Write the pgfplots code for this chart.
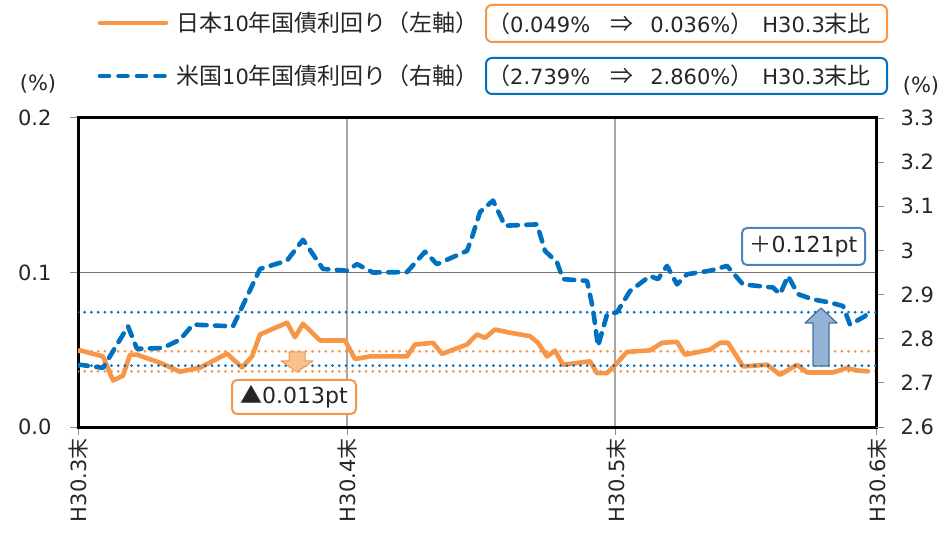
\documentclass[border=0pt]{standalone}
\usepackage{fontspec}
\setmainfont{DejaVu Sans}
\newfontfamily\jp{Noto Sans CJK JP}
\usepackage{pgfplots}
\pgfplotsset{compat=1.18}
\newcommand\J[1]{{\jp #1}}
\newcommand\JL[1]{{\jp\fontsize{23bp}{27bp}\selectfont #1}}
\newcommand\fs{\fontsize{21bp}{25bp}\selectfont}
\definecolor{jorange}{HTML}{F79646}
\definecolor{orgfill}{HTML}{FAC08F}
\definecolor{usblue}{HTML}{0070C0}
\definecolor{arrblue}{HTML}{95B3D7}
\definecolor{arrbluedark}{HTML}{41719C}
\definecolor{boxblue}{HTML}{4F81BD}
\definecolor{txt}{HTML}{262626}

\pgfplotstableread{
x y
0 0.049
2 0.0496
25 0.0457
35 0.0301
45 0.0332
52 0.0468
59 0.0468
82 0.0416
102 0.0358
122 0.0384
149 0.0475
164 0.0386
174 0.0457
182 0.0599
209 0.0675
217 0.0581
225 0.0668
242 0.0560
267 0.0560
277 0.0440
292 0.0457
329 0.0457
337 0.0534
355 0.0545
364 0.0473
389 0.0534
399 0.0599
407 0.0577
417 0.0631
432 0.0610
452 0.0588
460 0.0545
469 0.0457
477 0.0494
485 0.0403
512 0.0425
519 0.0349
529 0.0349
539 0.0414
549 0.0486
572 0.0496
584 0.0545
599 0.0551
607 0.0468
632 0.0501
642 0.0545
650 0.0545
665 0.0392
689 0.0403
702 0.0338
719 0.0403
729 0.0353
755 0.0353
769 0.0382
779 0.0366
790 0.036
}\japan

\pgfplotstableread{
x y
0 2.739
2 2.741
25 2.734
50 2.828
59 2.777
85 2.779
102 2.798
115 2.832
155 2.828
182 2.958
209 2.977
225 3.024
245 2.958
269 2.954
279 2.969
295 2.950
329 2.951
347 2.997
359 2.969
389 2.999
394 3.030
402 3.087
415 3.113
427 3.056
459 3.059
467 2.999
479 2.973
485 2.935
509 2.931
515 2.867
520 2.783
529 2.855
539 2.860
552 2.908
572 2.942
580 2.935
589 2.965
599 2.923
609 2.946
632 2.954
649 2.965
665 2.923
695 2.916
702 2.901
710 2.942
720 2.901
735 2.889
752 2.882
765 2.874
772 2.832
787 2.851
790 2.860
}\us

\begin{document}
\begin{tikzpicture}
\begin{scope}[x=1bp,y=-1bp,shift={(-78bp,427bp)}]
\path[use as bounding box] (0,0) rectangle (951,534);
\end{scope}

\begin{axis}[
  at={(0,0)}, anchor=south west,
  scale only axis, width=798bp, height=309bp,
  xmin=0, xmax=798, ymin=0, ymax=0.2,
  xtick={0,269,537,798},
  xticklabels={{H30.3\J{末}},{H30.4\J{末}},{H30.5\J{末}},{H30.6\J{末}}},
  ytick={0,0.1,0.2},
  xmajorgrids, ymajorgrids,
  x grid style={color=black!35, line width=1.2bp},
  y grid style={color=black!55, line width=1.2bp},
  axis line style={line width=3bp, black},
  tick align=outside,
  xtick pos=bottom, ytick pos=left,
  major tick length=8bp,
  tick style={color=black!45, line width=1bp},
  tick label style={font=\fs, text=txt, /pgf/number format/assume math mode=true},
  yticklabel style={xshift=-15bp, /pgf/number format/fixed, /pgf/number format/fixed zerofill, /pgf/number format/precision=1},
  xticklabel style={rotate=90, anchor=east, yshift=-1bp},
]
\addplot[jorange, mark=none, line width=3bp, line cap=round, dash pattern=on 0bp off 6.7bp] coordinates {(0,0.049) (798,0.049)};
\addplot[jorange, mark=none, line width=3bp, line cap=round, dash pattern=on 0bp off 6.7bp] coordinates {(0,0.036) (798,0.036)};
\addplot[jorange, mark=none, line width=4.6bp, line join=round, line cap=round] table[x=x,y=y] {\japan};
\end{axis}

\begin{axis}[
  at={(0,0)}, anchor=south west,
  scale only axis, width=798bp, height=309bp,
  xmin=0, xmax=798, ymin=2.6, ymax=3.3,
  axis x line=none, axis y line*=right,
  ytick={2.6,2.7,2.8,2.9,3.0,3.1,3.2,3.3},
  axis line style={line width=3bp, black, -},
  tick align=outside,
  major tick length=8bp,
  tick style={color=black!45, line width=1bp},
  tick label style={font=\fs, text=txt, /pgf/number format/assume math mode=true},
  yticklabel style={xshift=13bp},
]
\addplot[usblue, mark=none, line width=3bp, line cap=round, dash pattern=on 0bp off 6.7bp] coordinates {(0,2.739) (798,2.739)};
\addplot[usblue, mark=none, line width=3bp, line cap=round, dash pattern=on 0bp off 6.7bp] coordinates {(0,2.860) (798,2.860)};
\addplot[usblue, mark=none, line width=4.6bp, line join=round, line cap=round, dash pattern=on 10bp off 8.5bp] table[x=x,y=y] {\us};
\end{axis}

\begin{scope}[x=1bp,y=-1bp,shift={(-78bp,427bp)}]
% legend
\draw[jorange, line width=4.6bp, line cap=round] (100,23) -- (166,23);
\node[anchor=west, inner sep=0pt, font=\fs, text=txt] at (176,23) {\JL{日本}10\JL{年国債利回り（左軸）}};
\draw[jorange, line width=2bp, rounded corners=6bp] (486,5) rectangle (887,42);
\node[anchor=west, inner sep=0pt, font=\fs, text=txt] at (487,23.5) {\JL{（}0.049\%\hspace{20bp}\JL{⇒}\hspace{17bp}0.036\%\JL{）}\hspace{9bp}H30.3\JL{末比}};
\draw[usblue, line width=4.6bp, line cap=round, dash pattern=on 9bp off 9.5bp] (100,76) -- (166,76);
\node[anchor=west, inner sep=0pt, font=\fs, text=txt] at (176,76) {\JL{米国}10\JL{年国債利回り（右軸）}};
\draw[usblue, line width=2bp, rounded corners=6bp] (486,58) rectangle (887,94);
\node[anchor=west, inner sep=0pt, font=\fs, text=txt] at (487,76) {\JL{（}2.739\%\hspace{20bp}\JL{⇒}\hspace{17bp}2.860\%\JL{）}\hspace{9bp}H30.3\JL{末比}};
\node[inner sep=0pt, font=\fs, text=txt] at (38,84) {(\%)};
\node[inner sep=0pt, font=\fs, text=txt] at (921,86) {(\%)};
% annotations
\filldraw[fill=orgfill, draw=jorange, line width=1bp, line join=round] (289,352) -- (305,352) -- (305,361) -- (313,361) -- (297,372) -- (281,361) -- (289,361) -- cycle;
\draw[jorange, line width=2bp, rounded corners=5bp, fill=white] (232,380) rectangle (356,414);
\node[inner sep=0pt, font=\fontsize{22bp}{26bp}\selectfont, text=txt] at (294,397) {{\jp ▲}0.013pt};
\filldraw[fill=arrblue, draw=arrbluedark, line width=1.2bp, line join=round] (813,366) -- (829,366) -- (829,323) -- (837,323) -- (821,308) -- (805,323) -- (813,323) -- cycle;
\draw[boxblue, line width=2bp, rounded corners=5bp, fill=white] (742,228) rectangle (865,265);
\node[inner sep=0pt, font=\fontsize{22bp}{26bp}\selectfont, text=txt] at (803.5,246.5) {{\jp ＋}0.121pt};
\end{scope}
\end{tikzpicture}
\end{document}
